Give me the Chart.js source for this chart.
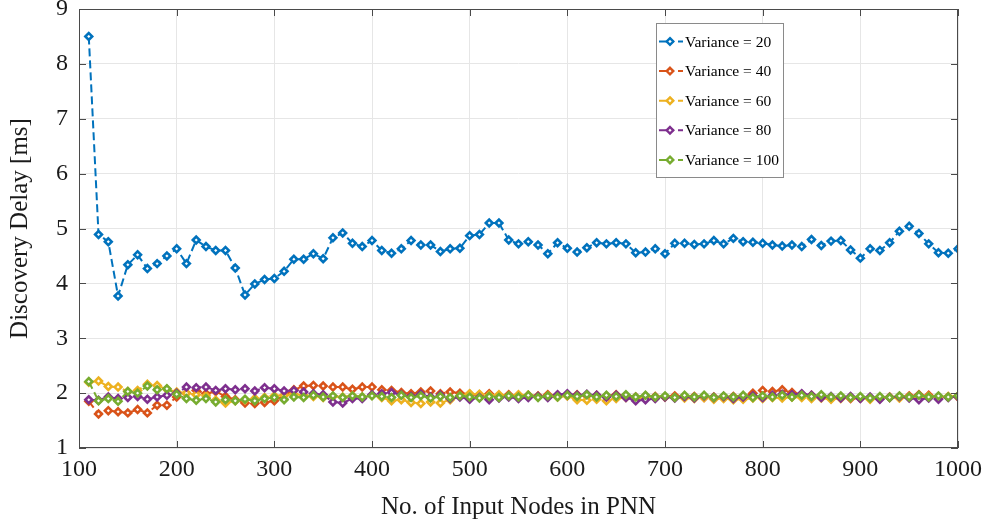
<!DOCTYPE html>
<html>
<head>
<meta charset="utf-8">
<script src="https://cdn.jsdelivr.net/npm/chart.js@4/dist/chart.umd.min.js"></script>
<style>
  html, body { margin: 0; padding: 0; background: #ffffff; }
  #wrap { width: 983px; height: 527px; position: relative; }
</style>
</head>
<body>
<div id="wrap"><canvas id="c" width="983" height="527"></canvas></div>
<script>
// Number of input nodes in the PNN
const nodes = [110,120,130,140,150,160,170,180,190,200,
  210,220,230,240,250,260,270,280,290,300,
  310,320,330,340,350,360,370,380,390,400,
  410,420,430,440,450,460,470,480,490,500,
  510,520,530,540,550,560,570,580,590,600,
  610,620,630,640,650,660,670,680,690,700,
  710,720,730,740,750,760,770,780,790,800,
  810,820,830,840,850,860,870,880,890,900,
  910,920,930,940,950,960,970,980,990,1000];

// Discovery delay [ms] per variance setting
const var20 = [8.50,4.89,4.76,3.77,4.34,4.52,4.27,4.36,4.50,4.63,
  4.36,4.79,4.67,4.60,4.60,4.28,3.79,3.99,4.07,4.09,
  4.22,4.44,4.44,4.54,4.45,4.83,4.92,4.73,4.67,4.78,
  4.60,4.55,4.63,4.78,4.70,4.70,4.58,4.63,4.64,4.87,
  4.89,5.10,5.10,4.79,4.72,4.76,4.70,4.54,4.74,4.64,
  4.57,4.65,4.74,4.72,4.74,4.72,4.56,4.57,4.63,4.54,
  4.73,4.73,4.71,4.72,4.78,4.72,4.82,4.76,4.75,4.73,
  4.70,4.68,4.70,4.67,4.80,4.69,4.77,4.78,4.61,4.46,
  4.63,4.60,4.74,4.95,5.04,4.91,4.72,4.56,4.55,4.63];

const var40 = [1.85,1.62,1.68,1.66,1.64,1.70,1.64,1.78,1.78,1.93,
  2.00,2.05,1.99,2.03,1.94,1.88,1.82,1.81,1.83,1.86,
  1.96,2.06,2.13,2.14,2.13,2.11,2.11,2.07,2.11,2.11,
  2.06,2.05,2.01,1.99,2.02,2.04,1.99,2.02,2.00,1.98,
  1.96,1.99,1.95,1.97,1.95,1.96,1.95,1.97,1.96,1.95,
  1.97,1.95,1.96,1.95,1.97,1.95,1.93,1.95,1.94,1.93,
  1.95,1.93,1.94,1.92,1.93,1.92,1.94,1.95,2.00,2.05,
  2.03,2.06,2.01,1.98,1.96,1.94,1.92,1.93,1.90,1.91,
  1.90,1.91,1.93,1.92,1.95,1.97,1.96,1.92,1.93,1.93];

const var60 = [2.20,2.22,2.12,2.11,2.03,2.05,2.16,2.14,2.07,2.02,
  2.00,1.97,1.95,1.87,1.82,1.86,1.88,1.90,1.92,1.95,
  1.96,1.98,1.96,1.94,1.92,1.94,1.93,1.95,1.93,1.96,
  1.92,1.86,1.88,1.83,1.81,1.84,1.82,1.88,1.95,1.99,
  1.98,1.96,1.97,1.95,1.97,1.96,1.94,1.95,1.93,1.95,
  1.88,1.87,1.89,1.86,1.90,1.92,1.90,1.92,1.91,1.93,
  1.92,1.91,1.90,1.92,1.89,1.90,1.88,1.89,1.91,1.90,
  1.92,1.91,1.93,1.92,1.90,1.91,1.89,1.90,1.92,1.91,
  1.89,1.90,1.92,1.91,1.93,1.92,1.94,1.93,1.94,1.95];

const var80 = [1.88,1.87,1.93,1.90,1.92,1.94,1.89,1.93,1.96,2.00,
  2.11,2.10,2.11,2.05,2.08,2.06,2.08,2.04,2.10,2.08,
  2.04,2.05,2.02,1.99,1.97,1.84,1.82,1.90,1.90,1.97,
  1.99,2.01,1.97,1.94,1.98,1.93,1.96,1.90,1.93,1.89,
  1.92,1.88,1.91,1.93,1.90,1.92,1.94,1.92,1.97,1.99,
  1.96,1.98,1.96,1.93,1.96,1.92,1.86,1.88,1.90,1.93,
  1.91,1.94,1.91,1.95,1.92,1.94,1.90,1.93,1.95,1.92,
  1.96,1.98,1.97,1.99,1.96,1.92,1.94,1.91,1.94,1.90,
  1.93,1.89,1.92,1.94,1.91,1.88,1.91,1.89,1.92,1.94];

const var100 = [2.21,1.86,1.90,1.85,2.03,2.00,2.13,2.06,2.08,1.98,
  1.90,1.87,1.90,1.84,1.88,1.86,1.89,1.86,1.90,1.92,
  1.88,1.93,1.92,1.96,1.93,1.95,1.92,1.95,1.93,1.95,
  1.94,1.92,1.96,1.92,1.95,1.91,1.94,1.92,1.95,1.93,
  1.91,1.94,1.92,1.95,1.93,1.96,1.92,1.95,1.93,1.96,
  1.94,1.97,1.93,1.96,1.94,1.97,1.93,1.96,1.93,1.95,
  1.92,1.96,1.93,1.96,1.92,1.95,1.93,1.96,1.92,1.95,
  1.93,1.96,1.93,1.96,1.94,1.97,1.93,1.95,1.92,1.94,
  1.91,1.94,1.92,1.95,1.93,1.96,1.93,1.95,1.93,1.95];

const seriesLabels = ['Variance = 20','Variance = 40','Variance = 60','Variance = 80','Variance = 100'];
const seriesColors = ['#0072BD','#D95319','#EDB120','#7E2F8E','#77AC30'];
const seriesValues = [var20, var40, var60, var80, var100];
// later series are painted over earlier ones (lower order = drawn on top)
const drawOrder = [4, 3, 2, 1, 0];

const xTicks = [100,200,300,400,500,600,700,800,900,1000];
const yTicks = [1,2,3,4,5,6,7,8,9];

const SERIF = "'Liberation Serif', 'Times New Roman', serif";

const datasets = seriesValues.map((vals, i) => ({
  label: seriesLabels[i],
  data: nodes.map((n, k) => ({ x: n, y: vals[k] })),
  borderColor: seriesColors[i],
  backgroundColor: '#ffffff',
  borderWidth: 2,
  borderDash: [8, 4],
  pointStyle: 'rectRot',
  pointRadius: 3.4,
  pointBorderWidth: 2.6,
  pointBackgroundColor: '#ffffff',
  pointBorderColor: seriesColors[i],
  tension: 0,
  order: drawOrder[i]
}));

// Axes box with inward tick marks on all four sides
const boxPlugin = {
  id: 'boxTicks',
  afterDatasetsDraw(chart) {
    const { ctx, chartArea: a, scales } = chart;
    ctx.save();
    ctx.strokeStyle = '#4a4a4a';
    ctx.lineWidth = 1;
    ctx.strokeRect(a.left + 0.5, a.top + 0.5, a.right - a.left - 1, a.bottom - a.top - 1);
    const L = 7;
    ctx.beginPath();
    xTicks.forEach(v => {
      const px = Math.round(scales.x.getPixelForValue(v)) + 0.5;
      ctx.moveTo(px, a.bottom); ctx.lineTo(px, a.bottom - L);
      ctx.moveTo(px, a.top); ctx.lineTo(px, a.top + L);
    });
    yTicks.forEach(v => {
      const py = Math.round(scales.y.getPixelForValue(v)) + 0.5;
      ctx.moveTo(a.left, py); ctx.lineTo(a.left + L, py);
      ctx.moveTo(a.right, py); ctx.lineTo(a.right - L, py);
    });
    ctx.stroke();
    ctx.restore();
  }
};

// Boxed legend in the upper right of the plot
const legendPlugin = {
  id: 'boxLegend',
  afterDraw(chart) {
    const { ctx } = chart;
    const bx = 656, by = 23, bw = 127, bh = 154;
    ctx.save();
    ctx.fillStyle = '#ffffff';
    ctx.fillRect(bx, by, bw, bh);
    ctx.strokeStyle = '#8a8a8a';
    ctx.lineWidth = 1;
    ctx.strokeRect(bx + 0.5, by + 0.5, bw, bh);
    chart.data.datasets.forEach((ds, i) => {
      const y = 41.5 + i * 29.6;
      ctx.strokeStyle = ds.borderColor;
      ctx.lineWidth = 2;
      ctx.setLineDash([]);
      ctx.beginPath();
      ctx.moveTo(659, y); ctx.lineTo(674, y);
      ctx.moveTo(678, y); ctx.lineTo(683, y);
      ctx.stroke();
      const cx = 670, r = 3.3;
      ctx.lineWidth = 2.4;
      ctx.beginPath();
      ctx.moveTo(cx, y - r); ctx.lineTo(cx + r, y); ctx.lineTo(cx, y + r); ctx.lineTo(cx - r, y); ctx.closePath();
      ctx.fillStyle = '#ffffff';
      ctx.fill();
      ctx.stroke();
      ctx.fillStyle = '#000000';
      ctx.font = '15.5px ' + SERIF;
      ctx.textBaseline = 'middle';
      ctx.textAlign = 'left';
      ctx.fillText(ds.label, 685, y + 1);
    });
    ctx.restore();
  }
};

new Chart(document.getElementById('c'), {
  type: 'line',
  data: { datasets },
  options: {
    responsive: false,
    animation: false,
    devicePixelRatio: 1,
    layout: { padding: { left: 0, right: 25, top: 9, bottom: 0 } },
    plugins: {
      legend: { display: false },
      tooltip: { enabled: false }
    },
    scales: {
      x: {
        type: 'linear',
        min: 100, max: 1000,
        afterBuildTicks(scale) { scale.ticks = xTicks.map(v => ({ value: v })); },
        afterFit(scale) {
          scale.height = 79;
          scale.paddingLeft = 0; scale.paddingRight = 0;
        },
        grid: { color: '#e6e6e6', drawTicks: false, lineWidth: 1 },
        border: { display: false },
        ticks: { color: '#1a1a1a', font: { family: SERIF, size: 24 }, padding: 7, maxRotation: 0,
                 callback: v => String(v) },
        title: { display: true, text: 'No. of Input Nodes in PNN', color: '#1a1a1a',
                 font: { family: SERIF, size: 25 }, padding: { top: 0, bottom: 5 } }
      },
      y: {
        type: 'linear',
        min: 1, max: 9,
        afterBuildTicks(scale) { scale.ticks = yTicks.map(v => ({ value: v })); },
        afterFit(scale) {
          scale.width = 79;
          scale.paddingTop = 0; scale.paddingBottom = 0;
        },
        grid: { color: '#e6e6e6', drawTicks: false, lineWidth: 1 },
        border: { display: false },
        ticks: { color: '#1a1a1a', font: { family: SERIF, size: 24 }, padding: 11,
                 callback: v => String(v) },
        title: { display: true, text: 'Discovery Delay [ms]', color: '#1a1a1a',
                 font: { family: SERIF, size: 25 }, padding: { top: 5, bottom: 0 } }
      }
    }
  },
  plugins: [boxPlugin, legendPlugin]
});
</script>
</body>
</html>
